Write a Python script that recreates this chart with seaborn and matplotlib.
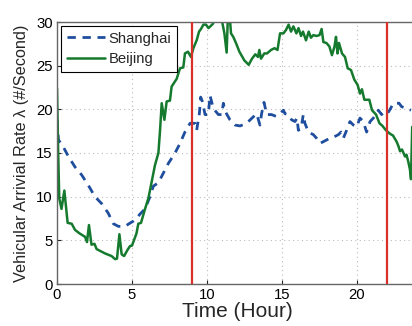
import matplotlib
matplotlib.use("Agg")
import matplotlib.pyplot as plt
import seaborn as sns
import pandas as pd

# ---- data ----
bj_t = [0.0, 0.08, 0.15, 0.3, 0.49, 0.71, 0.98, 1.2, 1.5, 1.87, 2.0, 2.13, 2.3, 2.5, 2.64,
        3.2, 3.64, 3.87, 4.0, 4.16, 4.31, 4.47, 4.7, 4.87, 5.0, 5.3, 5.42, 5.6, 5.87, 6.09,
        6.3, 6.53, 6.76, 6.87, 6.98, 7.16, 7.31, 7.53, 7.64, 7.98, 8.2, 8.42, 8.53, 8.73,
        8.93, 9.09, 9.31, 9.47, 9.6, 9.76, 9.93, 10.1, 10.4, 10.6, 10.9, 11.16, 11.31, 11.4,
        11.5, 11.6, 11.75, 11.93, 12.16, 12.49, 12.78, 13.0, 13.22, 13.4, 13.49, 13.6, 13.82,
        14.0, 14.27, 14.5, 14.7, 14.87, 15.1, 15.27, 15.44, 15.6, 15.76, 15.96, 16.1, 16.27,
        16.4, 16.6, 16.78, 16.93, 17.09, 17.3, 17.5, 17.64, 17.76, 17.96, 18.16, 18.33, 18.5,
        18.6, 18.7, 18.8, 19.0, 19.2, 19.38, 19.6, 19.82, 20.04, 20.2, 20.33, 20.49, 20.82,
        21.0, 21.27, 21.5, 21.7, 21.93, 22.2, 22.4, 22.64, 22.76, 22.87, 23.0, 23.2, 23.3,
        23.42, 23.53, 23.6, 23.68]
bj_v = [22.4, 15.0, 9.8, 8.6, 10.7, 7.0, 6.9, 6.2, 5.8, 5.4, 4.8, 6.75, 4.5, 4.6, 4.0,
        3.5, 3.2, 2.85, 2.9, 5.7, 3.4, 3.2, 3.9, 4.35, 4.4, 5.8, 6.9, 7.0, 8.6, 9.8,
        11.6, 13.6, 15.0, 17.6, 20.7, 18.8, 20.9, 21.0, 22.6, 23.5, 24.7, 24.8, 26.4, 26.6,
        26.0, 27.0, 27.9, 28.9, 29.2, 29.7, 29.7, 29.3, 29.8, 31.0, 31.0, 28.7, 26.5, 31.0,
        31.0, 28.7, 28.3, 27.6, 26.6, 25.6, 25.1, 25.8, 26.3, 26.0, 26.8, 25.8, 26.4,
        26.4, 26.8, 27.0, 26.8, 28.7, 28.7, 29.1, 29.7, 28.9, 29.5, 28.7, 29.3, 28.4,
        28.9, 27.9, 28.9, 28.2, 28.5, 28.4, 28.5, 29.2, 27.7, 27.6, 27.2, 26.2, 27.2,
        28.3, 26.4, 27.6, 26.4, 26.0, 24.7, 24.5, 23.4, 22.8, 21.8, 22.3, 21.1, 21.1,
        19.9, 19.4, 18.4, 18.1, 17.6, 17.2, 17.0, 16.3, 15.8, 15.2, 15.4, 14.6, 14.8,
        14.0, 13.1, 12.0, 18.0]

sh_t = [0.0, 0.1, 0.42, 0.76, 1.2, 1.64, 2.09, 2.53, 2.98, 3.42, 3.76, 4.09, 4.53, 4.8,
        5.09, 5.3, 5.53, 5.87, 6.2, 6.42, 6.76, 7.09, 7.42, 7.87, 8.2, 8.53, 8.87, 9.2,
        9.31, 9.49, 9.58, 9.69, 9.87, 10.09, 10.2, 10.42, 10.76, 10.98, 11.09, 11.2, 11.53,
        11.87, 12.2, 12.5, 12.82, 13.0, 13.31, 13.53, 13.64, 13.8, 13.98, 14.3, 14.6, 14.87,
        15.09, 15.2, 15.42, 15.64, 15.87, 16.0, 16.09, 16.27, 16.42, 16.53, 16.76, 17.09,
        17.3, 17.53, 17.76, 18.09, 18.3, 18.53, 18.76, 18.93, 19.09, 19.31, 19.53, 19.76,
        19.98, 20.2, 20.42, 20.64, 20.87, 21.09, 21.27, 21.42, 21.64, 21.87, 22.1, 22.24,
        22.42, 22.8, 22.98, 23.3, 23.6]
sh_v = [18.8, 16.5, 15.7, 14.6, 13.4, 12.5, 11.3, 10.0, 9.2, 8.1, 6.9, 6.6, 6.6, 6.9,
        7.2, 7.5, 8.0, 8.6, 10.0, 11.2, 11.6, 12.7, 13.8, 15.0, 16.1, 17.4, 18.4, 18.4,
        17.6, 19.5, 21.4, 20.9, 19.4, 19.4, 21.6, 20.1, 19.4, 19.4, 20.7, 19.8, 18.8,
        18.2, 18.1, 18.3, 18.7, 19.0, 19.5, 18.2, 19.5, 20.8, 19.4, 19.4, 19.2, 19.5,
        19.9, 19.5, 19.4, 18.8, 18.6, 19.0, 17.6, 17.8, 19.4, 18.4, 17.4, 17.1,
        16.7, 16.1, 16.3, 16.6, 16.7, 16.9, 17.1, 17.4, 16.7, 17.6, 18.6, 18.2,
        18.0, 19.0, 18.6, 17.4, 18.6, 19.0, 19.4, 19.9, 19.4, 19.9, 19.7, 20.1,
        20.7, 20.7, 20.3, 20.1, 19.9]

vlines_t = [9, 22]
x_ticks = [0, 5, 10, 15, 20]
y_ticks = [0, 5, 10, 15, 20, 25, 30]

sns.set_style("white")
plt.rcParams['font.family'] = ['Liberation Sans', 'DejaVu Sans']

fig = plt.figure(figsize=(4.12, 3.26), dpi=100)
ax = fig.add_axes([57/412, 42/326, 360/412, 262/326])

sh_df = pd.DataFrame({"t": sh_t, "v": sh_v})
bj_df = pd.DataFrame({"t": bj_t, "v": bj_v})

sns.lineplot(data=sh_df, x="t", y="v", ax=ax, color="#1f4e9e", lw=2.0,
             linestyle=(0, (3.0, 2.4)), label="Shanghai", sort=False)
sns.lineplot(data=bj_df, x="t", y="v", ax=ax, color="#157a2e", lw=1.8,
             label="Beijing", sort=False)

for vt in vlines_t:
    ax.axvline(vt, color="#d9302a", lw=1.6, zorder=3)

ax.set_xlim(0, 24)
ax.set_ylim(0, 30)
ax.set_xticks(x_ticks)
ax.set_yticks(y_ticks)
ax.grid(True, linestyle=(0, (1, 3)), color="#bbbbbb", lw=0.8)
for s in ["left", "bottom", "top", "right"]:
    ax.spines[s].set_color("#666666")
    ax.spines[s].set_linewidth(1.0)
ax.tick_params(direction="in", length=3, labelsize=10.7, colors="#222222",
               top=False, right=False, left=True, bottom=True, pad=3)
for lbl in ax.get_xticklabels() + ax.get_yticklabels():
    lbl.set_color("black")

ax.set_xlabel("Time (Hour)", fontsize=15, labelpad=0)
ax.set_ylabel("Vehicular Arrivial Rate λ (#/Second)", fontsize=11.7, labelpad=5)

leg = ax.legend(loc="upper left", fontsize=10.7, frameon=True, fancybox=False,
                edgecolor="black", framealpha=1, handlelength=2.6,
                borderaxespad=0.25, borderpad=0.4, labelspacing=0.45, handletextpad=0.2)
leg.get_frame().set_linewidth(0.8)

fig.savefig("out.png", dpi=100)
